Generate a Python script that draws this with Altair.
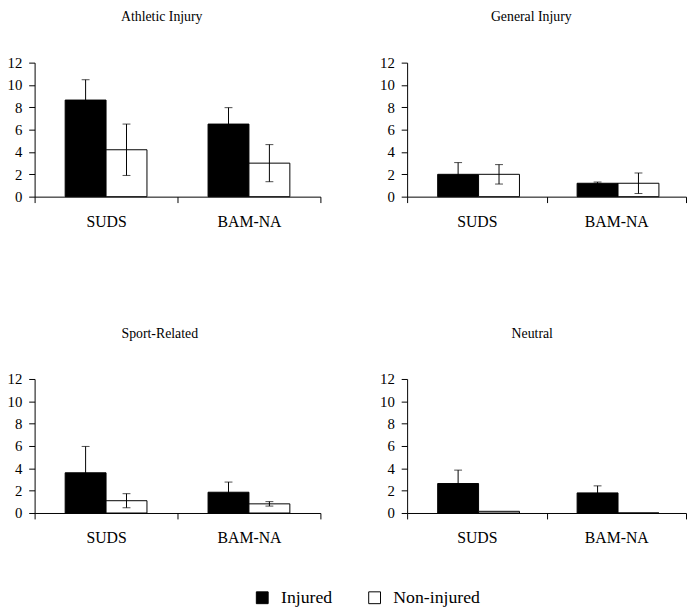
import altair as alt
import pandas as pd

panels = ["Athletic Injury", "General Injury", "Sport-Related", "Neutral"]
measures = ["SUDS", "BAM-NA"]
groups = ["Injured", "Non-injured"]

# order in each list: SUDS-Injured, SUDS-Non-injured, BAM-NA-Injured, BAM-NA-Non-injured
athletic_mean = [8.65, 4.2, 6.5, 3.0]
athletic_err = [1.82, 2.3, 1.47, 1.66]
general_mean = [2.0, 2.0, 1.2, 1.2]
general_err = [1.05, 0.87, 0.11, 0.92]
sport_mean = [3.6, 1.1, 1.86, 0.82]
sport_err = [2.36, 0.63, 0.91, 0.2]
neutral_mean = [2.64, 0.15, 1.8, 0.0]
neutral_err = [1.2, 0.0, 0.63, 0.0]

means = [athletic_mean, general_mean, sport_mean, neutral_mean]
errs = [athletic_err, general_err, sport_err, neutral_err]

rows = []
for p, m_list, e_list in zip(panels, means, errs):
    k = 0
    for meas in measures:
        for g in groups:
            m = m_list[k]
            e = e_list[k]
            rows.append({"panel": p, "measure": meas, "group": g, "mean": m,
                         "err": e, "lo": m - e, "hi": m + e})
            k += 1
df = pd.DataFrame(rows)

FONT = "Liberation Serif"
title_dx = [-16, -15.5, -18, -14.5]
widths = [290, 283, 290, 283]
HEIGHT = 136


def panel(i):
    p = panels[i]
    base = alt.Chart(df[df["panel"] == p])
    x = alt.X("measure:N", sort=measures,
              scale=alt.Scale(paddingInner=0, paddingOuter=0),
              axis=alt.Axis(title=None, labelAngle=0, tickBand="extent",
                            tickSize=6, labelPadding=11, labelFontSize=16))
    xo = alt.XOffset("group:N", sort=groups,
                     scale=alt.Scale(domain=groups, paddingInner=0, paddingOuter=0.747))
    y_axis = alt.Axis(title=None, values=[0, 2, 4, 6, 8, 10, 12], grid=False,
                      tickSize=6, labelPadding=7, labelOverlap=False, labelFontSize=15)
    y_scale = alt.Scale(domain=[0, 12], nice=False)
    bars = base.mark_bar(stroke="black", strokeWidth=1).encode(
        x=x, xOffset=xo,
        y=alt.Y("mean:Q", scale=y_scale, axis=y_axis),
        color=alt.Color("group:N", sort=groups,
                        scale=alt.Scale(domain=groups, range=["black", "white"]),
                        legend=alt.Legend(title=None, orient="none", direction="horizontal",
                                          legendX=222, legendY=534,
                                          symbolType="square", symbolSize=144,
                                          symbolStrokeColor="black", symbolStrokeWidth=1,
                                          labelFontSize=18, labelFont=FONT,
                                          labelColor="black", labelOffset=10,
                                          columnPadding=34)),
    )
    eb = base.transform_filter(alt.datum.err > 0)
    rule = eb.mark_rule(color="black", strokeWidth=1).encode(
        x=x, xOffset=xo, y=alt.Y("lo:Q", scale=y_scale, axis=y_axis), y2="hi:Q")
    cap_hi = eb.mark_tick(color="black", thickness=1, size=8).encode(
        x=x, xOffset=xo, y=alt.Y("hi:Q", scale=y_scale, axis=y_axis))
    cap_lo = eb.mark_tick(color="black", thickness=1, size=8).encode(
        x=x, xOffset=xo, y=alt.Y("lo:Q", scale=y_scale, axis=y_axis))
    return alt.layer(bars, rule, cap_hi, cap_lo).properties(
        width=widths[i], height=HEIGHT,
        title=alt.TitleParams(text=p, fontSize=14, font=FONT, fontWeight="normal",
                              color="black", dx=title_dx[i], offset=32, anchor="middle"),
    )


row1 = alt.hconcat(panel(0), panel(1), spacing=59)
row2 = alt.hconcat(panel(2), panel(3), spacing=59)
chart = alt.vconcat(row1, row2, spacing=99).resolve_scale(color="shared").properties(
    padding={"left": -1, "top": -2, "right": 0, "bottom": 0}
).configure_view(stroke=None).configure_axis(
    labelFont=FONT, labelColor="black",
    domainColor="black", tickColor="black", domainWidth=1, tickWidth=1,
).configure_legend(
    labelFont=FONT, labelFontSize=18, labelColor="black",
)

chart.save("out.html", embed_options={"renderer": "svg", "actions": False})
